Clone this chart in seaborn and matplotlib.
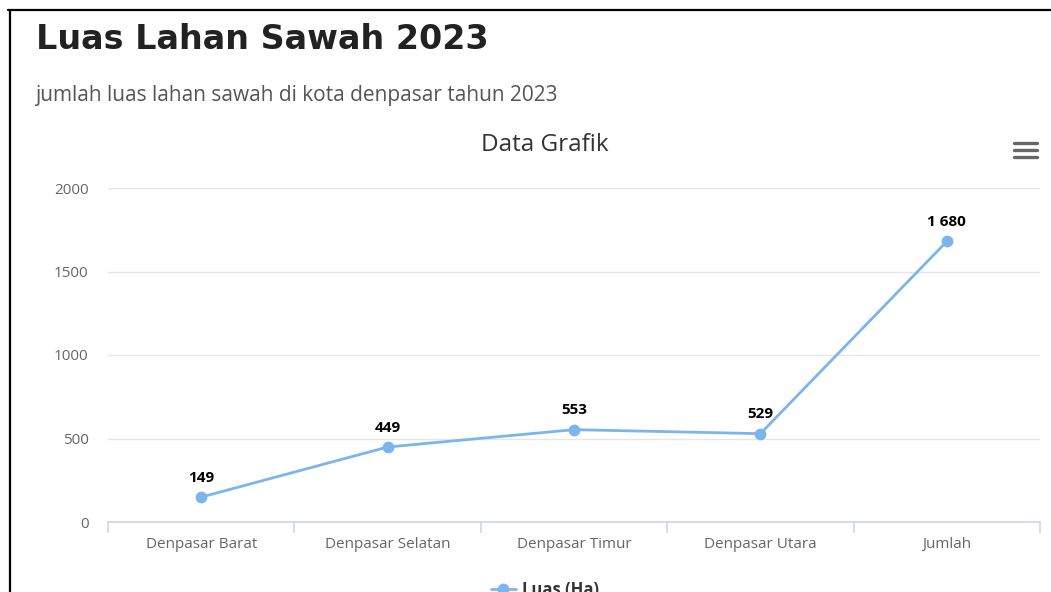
import matplotlib
matplotlib.use("Agg")
import matplotlib.pyplot as plt
from matplotlib.lines import Line2D
import seaborn as sns
import pandas as pd

# data
kecamatan = ["Denpasar Barat", "Denpasar Selatan", "Denpasar Timur", "Denpasar Utara", "Jumlah"]
luas = [149, 449, 553, 529, 1680]
y_ticks = [0, 500, 1000, 1500, 2000]

df = pd.DataFrame({"Kecamatan": kecamatan, "Luas (Ha)": luas})

sns.set_style("white")
plt.rcParams["font.family"] = ["Open Sans", "DejaVu Sans"]

W, H = 1051, 592
fig = plt.figure(figsize=(W / 100, H / 100), dpi=100)
fig.patch.set_facecolor("white")

# plot area in pixels
left, right, top, bottom = 108, 1040, 188, 522
ax = fig.add_axes([left / W, 1 - bottom / H, (right - left) / W, (bottom - top) / H])

sns.lineplot(data=df, x="Kecamatan", y="Luas (Ha)", ax=ax, color="#7cb5ec",
             linewidth=2, marker="o", markersize=8.5, markeredgewidth=0,
             label="Luas (Ha)", legend=False, sort=False)

ax.set_xlim(-0.5, len(kecamatan) - 0.5)
ax.set_ylim(0, 2000)
ax.set_yticks(y_ticks)
ax.set_yticklabels([str(t) for t in y_ticks], color="#666666", fontsize=11)
ax.set_xlabel("")
ax.set_ylabel("")
ax.grid(axis="y", color="#e6e6e6", linewidth=1)
ax.set_axisbelow(True)
for s in ["top", "right", "left"]:
    ax.spines[s].set_visible(False)
ax.spines["bottom"].set_color("#ccd6eb")
ax.spines["bottom"].set_linewidth(1.2)

# category ticks on boundaries, labels in the middle
ax.set_xticks([i - 0.5 for i in range(len(kecamatan) + 1)], minor=False)
ax.set_xticklabels([])
ax.set_xticks(range(len(kecamatan)), minor=True)
ax.set_xticklabels(kecamatan, minor=True, color="#666666", fontsize=11)
ax.tick_params(axis="x", which="major", bottom=True, length=8, color="#ccd6eb", width=1.2,
               direction="out")
ax.tick_params(axis="x", which="minor", bottom=True, length=0, pad=10.5)
ax.tick_params(axis="y", left=True, length=0, pad=14)

for i, v in enumerate(luas):
    ax.annotate(f"{v:,}".replace(",", " "), (i, v), xytext=(0, 9), textcoords="offset points",
                ha="center", va="bottom", fontsize=11, fontweight="bold", color="black")

# titles
fig.text(36 / W, 1 - 49 / H, "Luas Lahan Sawah 2023", fontsize=24, fontweight="bold",
         color="#222222", family=["DejaVu Sans"], va="baseline")
fig.text(35 / W, 1 - 101 / H, "jumlah luas lahan sawah di kota denpasar tahun 2023",
         fontsize=15, color="#555555", va="baseline")
fig.text(545 / W, 1 - 145 / H, "Data Grafik", fontsize=17.5, color="#333333",
         ha="center", va="center")

# legend
handles = [Line2D([0], [0], color="#7cb5ec", linewidth=2, marker="o", markersize=8.5,
                  markeredgewidth=0)]
fig.legend(handles, ["Luas (Ha)"], loc="center", bbox_to_anchor=(545 / W, 1 - 590 / H),
           frameon=False, prop={"weight": "bold", "size": 12}, labelcolor="#333333",
           handlelength=1.5, handletextpad=0.4)

# menu icon
for yy in [143, 150, 157]:
    fig.add_artist(Line2D([1014 / W, 1037 / W], [1 - yy / H, 1 - yy / H], color="#666666",
                          linewidth=2.4, solid_capstyle="round"))

# page border
fig.add_artist(Line2D([8 / W, 1.0], [1 - 10 / H, 1 - 10 / H], color="black", linewidth=1.6))
fig.add_artist(Line2D([9.5 / W, 9.5 / W], [1 - 10 / H, 0], color="black", linewidth=1.6))

fig.savefig("out.png", dpi=100)
